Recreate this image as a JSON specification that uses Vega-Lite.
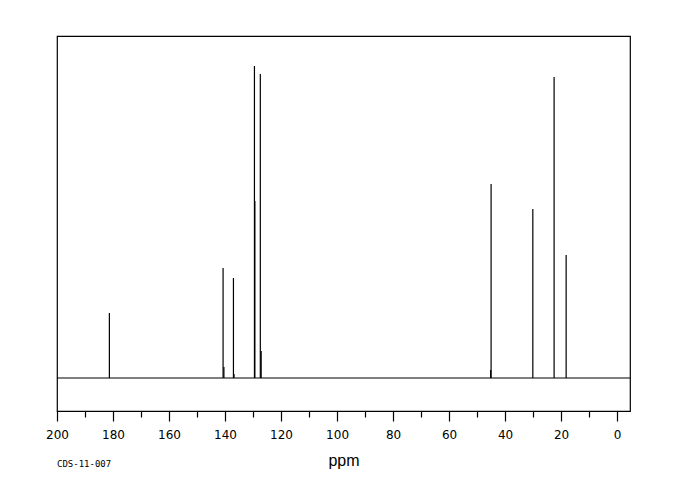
{
  "$schema": "https://vega.github.io/schema/vega-lite/v6.json",
  "width": 573,
  "height": 375,
  "autosize": {"type": "none"},
  "padding": {"left": 57, "top": 36, "right": 50, "bottom": 89},
  "background": "white",
  "config": {
    "view": {"stroke": "black", "strokeWidth": 1.2},
    "font": "DejaVu Sans"
  },
  "title": {
    "text": "CDS-11-007",
    "orient": "bottom",
    "anchor": "start",
    "frame": "group",
    "font": "DejaVu Sans Mono",
    "fontSize": 9,
    "fontWeight": "normal",
    "color": "black",
    "offset": -8
  },
  "data": {"values": [
      {"ppm": 181.3, "intensity": 65},
      {"ppm": 140.7, "intensity": 110},
      {"ppm": 140.4, "intensity": 11},
      {"ppm": 137.0, "intensity": 100},
      {"ppm": 136.8, "intensity": 4},
      {"ppm": 129.5, "intensity": 312},
      {"ppm": 129.35, "intensity": 177},
      {"ppm": 127.4, "intensity": 304},
      {"ppm": 127.1, "intensity": 27},
      {"ppm": 45.0, "intensity": 194},
      {"ppm": 45.15, "intensity": 8},
      {"ppm": 30.1, "intensity": 169},
      {"ppm": 22.5, "intensity": 301},
      {"ppm": 18.2, "intensity": 123}
  ]},
  "resolve": {"axis": {"x": "independent"}},
  "layer": [
    {
      "mark": {"type": "rule", "color": "black", "strokeWidth": 1.2},
      "encoding": {
        "x": {
          "field": "ppm",
          "type": "quantitative",
          "scale": {"domain": [200, -4.6], "nice": false, "zero": false},
          "axis": {
            "orient": "bottom",
            "values": [200, 180, 160, 140, 120, 100, 80, 60, 40, 20, 0],
            "tickSize": 10,
            "tickColor": "black",
            "tickWidth": 1.2,
            "domain": false,
            "grid": false,
            "labelFont": "DejaVu Sans",
            "labelFontSize": 12,
            "labelColor": "black",
            "labelPadding": 8,
            "labelFlush": false,
            "title": "ppm",
            "titleFont": "Liberation Sans",
            "titleFontSize": 16,
            "titleFontWeight": "normal",
            "titleColor": "black",
            "titlePadding": 12
          }
        },
        "y": {"field": "intensity", "type": "quantitative", "scale": {"domain": [-33, 342], "nice": false, "zero": false}, "axis": null},
        "y2": {"datum": 0}
      }
    },
    {
      "mark": {"type": "rule", "color": "black", "strokeWidth": 1.2, "opacity": 0},
      "encoding": {
        "x": {
          "field": "ppm",
          "type": "quantitative",
          "axis": {
            "orient": "bottom",
            "values": [190, 170, 150, 130, 110, 90, 70, 50, 30, 10],
            "tickSize": 6,
            "tickColor": "black",
            "tickWidth": 1.2,
            "domain": false,
            "grid": false,
            "labels": false,
            "title": null
          }
        }
      }
    },
    {
      "data": {"values": [{"level": 0}]},
      "mark": {"type": "rule", "color": "black", "strokeWidth": 1.2},
      "encoding": {
        "y": {"field": "level", "type": "quantitative"}
      }
    }
  ]
}
